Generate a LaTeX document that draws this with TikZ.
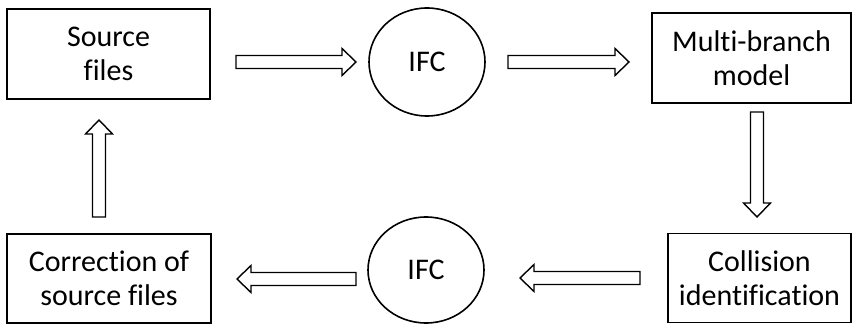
\documentclass[tikz,border=0pt]{standalone}
\usepackage{fontspec}
\setmainfont{Carlito}[Ligatures={NoCommon,NoRare,NoContextual}]
\usetikzlibrary{calc,shapes.geometric}
\tikzset{
  box/.style={draw, line width=1.6pt, align=center, inner sep=0pt,
    font=\fontsize{30}{34}\selectfont},
  ifc/.style={draw, ellipse, line width=1.6pt, inner sep=0pt,
    font=\fontsize{30}{34}\selectfont},
  fatarrow/.style={line width=1.4pt, to path={
    let \p1=(\tikztostart), \p2=(\tikztotarget),
        \n1={atan2(\y2-\y1,\x2-\x1)}, \n2={veclen(\x2-\x1,\y2-\y1)} in
    {[shift={(\p1)}, rotate=\n1]
      (0,-6.5) -- (\n2-14,-6.5) -- (\n2-14,-13.5) -- (\n2,0)
      -- (\n2-14,13.5) -- (\n2-14,6.5) -- (0,6.5) -- cycle}}}
}
\begin{document}
\begin{tikzpicture}[x=1pt,y=1pt]
  \useasboundingbox (0,0) rectangle (853,324);

  % process blocks
  \node[box, minimum width=203pt, minimum height=90pt] (src) at (108.5,270) {Source\\files};
  \node[ifc, minimum width=116pt, minimum height=108pt] (ifcA) at (427,262) {IFC};
  \node[box, minimum width=199pt, minimum height=90pt] (mbm) at (751.5,266) {Multi-branch\\model};
  \node[box, minimum width=183pt, minimum height=89pt] (col) at (759.5,46) {Collision\\identification};
  \node[ifc, minimum width=116pt, minimum height=106pt] (ifcB) at (426,54) {IFC};
  \node[box, minimum width=204pt, minimum height=89pt] (cor) at (109,45.5) {Correction of\\source files};

  % arrow end points
  \coordinate (a1s) at (236,262); \coordinate (a1e) at (356,262);
  \coordinate (a2s) at (508,262); \coordinate (a2e) at (629,262);
  \coordinate (a3s) at (757,212); \coordinate (a3e) at (757,107);
  \coordinate (a4s) at (640,46);  \coordinate (a4e) at (520,46);
  \coordinate (a5s) at (356,45);  \coordinate (a5e) at (237,45);
  \coordinate (a6s) at (99,107);  \coordinate (a6e) at (99,204);

  % block arrows
  \draw[fatarrow] (a1s) to (a1e);
  \draw[fatarrow] (a2s) to (a2e);
  \draw[fatarrow] (a3s) to (a3e);
  \draw[fatarrow] (a4s) to (a4e);
  \draw[fatarrow] (a5s) to (a5e);
  \draw[fatarrow] (a6s) to (a6e);
\end{tikzpicture}
\end{document}
